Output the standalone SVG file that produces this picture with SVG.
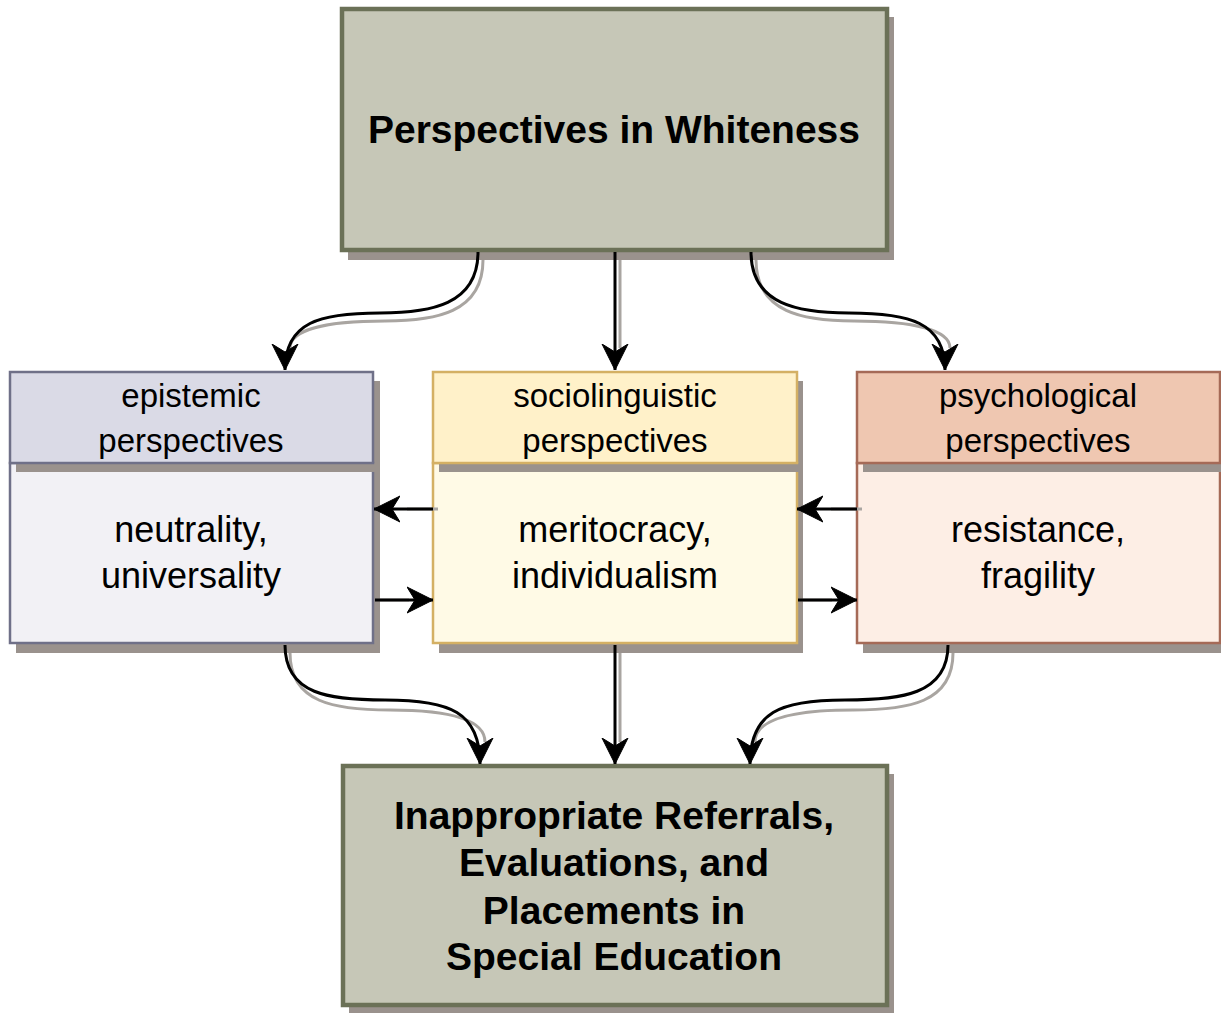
<svg xmlns="http://www.w3.org/2000/svg" width="1221" height="1013" viewBox="0 0 1221 1013">
<style>
text{font-family:"Liberation Sans",Arial,sans-serif;fill:#000;text-anchor:middle}
.big{font-size:39px;font-weight:bold}
.hd{font-size:33px}
.bd{font-size:36px}
.shadow{fill:#9a928d}
.line{fill:none;stroke:#000;stroke-width:3}
.lsh{fill:none;stroke:#a9a5a1;stroke-width:3}
.main{fill:#c6c7b7;stroke:#6b7157;stroke-width:4.5}
</style>
<defs>
<marker id="ah" markerUnits="userSpaceOnUse" markerWidth="28" markerHeight="28" refX="26" refY="14" orient="auto" viewBox="0 0 28 28">
<path d="M0,1 L26,14 L0,27 L8,14 Z" fill="#000" stroke="#000" stroke-width="1" stroke-linejoin="miter"/>
</marker>
</defs>
<rect width="1221" height="1013" fill="#fff"/>

<g id="top">
<rect class="shadow" x="348" y="17" width="546" height="243"/>
<rect class="main" x="342" y="9" width="545" height="241"/>
<text class="big" x="614" y="143">Perspectives in Whiteness</text>
</g>

<g id="epistemic">
<rect class="shadow" x="16" y="381" width="364" height="272"/>
<rect x="10" y="463" width="363" height="180" fill="#f2f1f5" stroke="#6f7088" stroke-width="2.5"/>
<rect class="shadow" x="16" y="463" width="364" height="9"/>
<rect x="10" y="372" width="363" height="91" fill="#dadae6" stroke="#6f7088" stroke-width="2.5"/>
<text class="hd" x="191" y="407">epistemic</text>
<text class="hd" x="191" y="452">perspectives</text>
<text class="bd" x="191" y="542">neutrality,</text>
<text class="bd" x="191" y="588">universality</text>
</g>

<g id="sociolinguistic">
<rect class="shadow" x="439" y="381" width="364" height="272"/>
<rect x="433" y="463" width="364" height="180" fill="#fffae6" stroke="#d4b064" stroke-width="2.5"/>
<rect class="shadow" x="439" y="463" width="364" height="9"/>
<rect x="433" y="372" width="364" height="91" fill="#fff1c9" stroke="#d4b064" stroke-width="2.5"/>
<text class="hd" x="615" y="407">sociolinguistic</text>
<text class="hd" x="615" y="452">perspectives</text>
<text class="bd" x="615" y="542">meritocracy,</text>
<text class="bd" x="615" y="588">individualism</text>
</g>

<g id="psychological">
<rect class="shadow" x="863" y="381" width="364" height="272"/>
<rect x="857" y="463" width="363" height="180" fill="#fdeee5" stroke="#a56a57" stroke-width="2.5"/>
<rect class="shadow" x="863" y="463" width="364" height="9"/>
<rect x="857" y="372" width="363" height="91" fill="#efc7b1" stroke="#a56a57" stroke-width="2.5"/>
<text class="hd" x="1038" y="407">psychological</text>
<text class="hd" x="1038" y="452">perspectives</text>
<text class="bd" x="1038" y="542">resistance,</text>
<text class="bd" x="1038" y="588">fragility</text>
</g>

<g id="outcome">
<rect class="shadow" x="349" y="774" width="545" height="239"/>
<rect class="main" x="343" y="766" width="544" height="239"/>
<text class="big" x="614" y="829">Inappropriate Referrals,</text>
<text class="big" x="614" y="876">Evaluations, and</text>
<text class="big" x="614" y="924">Placements in</text>
<text class="big" x="614" y="970">Special Education</text>
</g>

<g id="connectors">
<g transform="translate(5,8)">
<path class="lsh" d="M478,252 C478,305 430,313 380,313 C320,313 285,322 285,340"/>
<path class="lsh" d="M615,252 L615,340"/>
<path class="lsh" d="M751,252 C751,305 799,313 849,313 C909,313 945,322 945,340"/>
<path class="lsh" d="M433,501 L402,501"/>
<path class="lsh" d="M375,592 L404,592"/>
<path class="lsh" d="M857,501 L826,501"/>
<path class="lsh" d="M798,592 L827,592"/>
<path class="lsh" d="M285,645 C285,695 330,702 385,702 C445,702 480,712 480,734"/>
<path class="lsh" d="M615,645 L615,734"/>
<path class="lsh" d="M948,645 C948,695 903,702 848,702 C785,702 750,712 750,734"/>
</g>
<path class="line" marker-end="url(#ah)" d="M478,252 C478,305 430,313 380,313 C320,313 285,322 285,370"/>
<path class="line" marker-end="url(#ah)" d="M615,252 L615,370"/>
<path class="line" marker-end="url(#ah)" d="M751,252 C751,305 799,313 849,313 C909,313 945,322 945,370"/>
<path class="line" marker-end="url(#ah)" d="M433,509 L374,509"/>
<path class="line" marker-end="url(#ah)" d="M375,600 L433,600"/>
<path class="line" marker-end="url(#ah)" d="M857,509 L797,509"/>
<path class="line" marker-end="url(#ah)" d="M798,600 L857,600"/>
<path class="line" marker-end="url(#ah)" d="M285,645 C285,695 330,700 385,700 C450,700 480,712 480,764"/>
<path class="line" marker-end="url(#ah)" d="M615,645 L615,764"/>
<path class="line" marker-end="url(#ah)" d="M948,645 C948,695 900,700 845,700 C780,700 750,712 750,764"/>
</g>
</svg>
